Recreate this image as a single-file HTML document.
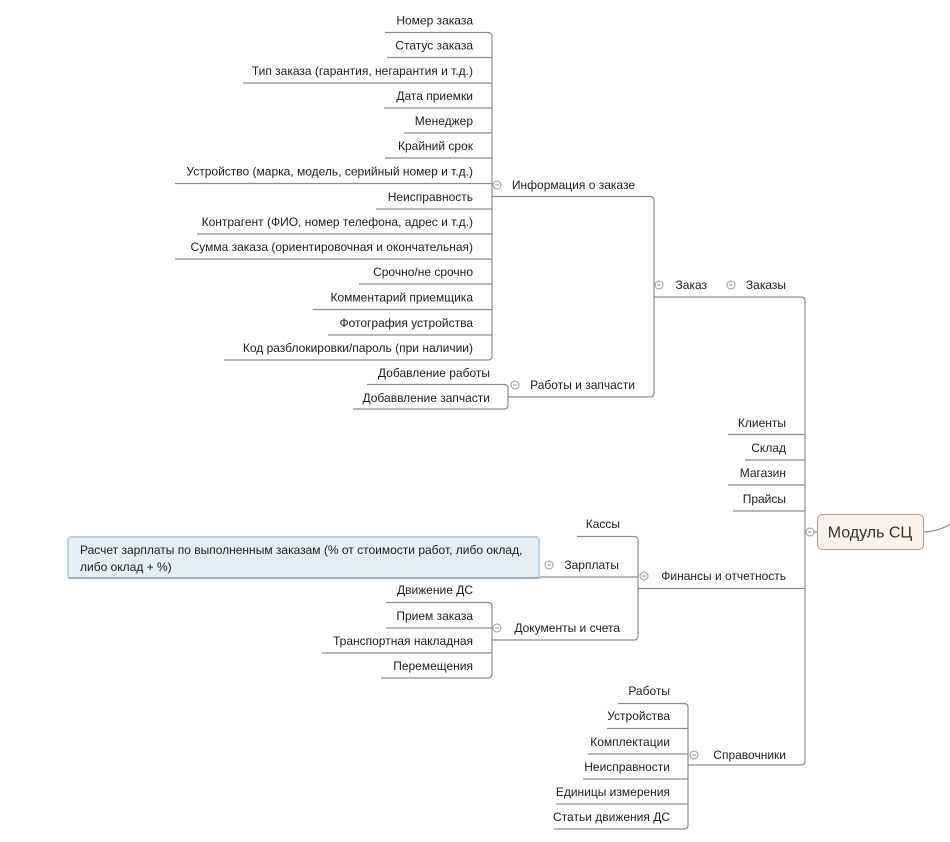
<!DOCTYPE html>
<html><head><meta charset="utf-8"><style>
html,body{margin:0;padding:0;background:#fff;width:950px;height:842px;overflow:hidden}
svg{display:block}
text{font-family:"Liberation Sans","DejaVu Sans",sans-serif;font-size:12px;fill:#1e1e1e}
</style></head><body>
<svg width="950" height="842" viewBox="0 0 950 842" xmlns="http://www.w3.org/2000/svg">
<g fill="none" stroke="#8e8e8e" stroke-width="1.2">
<path d="M385 32.5H488q4 0 4 4V356q0 4-4 4"/>
<path d="M387 57.5H492M243 83H492M384 108H492M404 133H492M385 158H492M175 183.5H492M376 209H492M197 234H492M175 259H492M359 284H492M313 309.5H492M328 335H492M224 360H488"/>
<path d="M492 196.5H650q4 0 4 4V393q0 4-4 4H508"/>
<path d="M367 384.5H504q4 0 4 4V405q0 4-4 4H353"/>
<path d="M654 297H801q4 0 4 4V761q0 4-4 4H688"/>
<path d="M728 434.5H805M745 460H805M728 485H805M733 511H805M638 588.5H805"/>
<path d="M577 536.5H634q4 0 4 4V636q0 4-4 4H492"/>
<path d="M540 577H638"/>
<path d="M386 602.5H488q4 0 4 4V674q0 4-4 4H381"/>
<path d="M386 628H492M322 653H492"/>
<path d="M618 703.5H684q4 0 4 4V825q0 4-4 4H554"/>
<path d="M607 728.5H688M588 754H688M583 779H688M556 804H688"/>
<path d="M805 532H817"/>
<path d="M924 532Q940 531 950 524"/>
</g>
<g fill="#fff" stroke="#9a9a9a" stroke-width="1">
<circle cx="497" cy="185" r="4"/><circle cx="515" cy="385" r="4"/>
<circle cx="659" cy="285" r="4"/><circle cx="731" cy="285" r="4"/>
<circle cx="810" cy="532" r="4"/><circle cx="644" cy="576" r="4"/>
<circle cx="549" cy="565" r="4"/><circle cx="497" cy="628" r="4"/>
<circle cx="694" cy="755" r="4"/>
</g>
<g stroke="#9a9a9a" stroke-width="1">
<path d="M495 185h4M513 385h4M657 285h4M729 285h4M808 532h4M642 576h4M547 565h4M495 628h4M692 755h4"/>
</g>
<rect x="817.5" y="514.5" width="106" height="35" rx="5" fill="#fdf2ea" stroke="#a89f97"/>
<text x="870" y="537.5" text-anchor="middle" style="font-size:16px;fill:#333">Модуль СЦ</text>
<rect x="68" y="537" width="471" height="41" rx="3" fill="#e3eff5" stroke="#bdd3e3" stroke-width="2"/>
<path d="M68 578H540" stroke="#8e9aa2" stroke-width="1.2"/>
<text x="80" y="554">Расчет зарплаты по выполненным заказам (% от стоимости работ, либо оклад,</text>
<text x="80" y="571">либо оклад + %)</text>
<g text-anchor="end">
<text x="473" y="24.5">Номер заказа</text>
<text x="473" y="49.5">Статус заказа</text>
<text x="473" y="75">Тип заказа (гарантия, негарантия и т.д.)</text>
<text x="473" y="100">Дата приемки</text>
<text x="473" y="125">Менеджер</text>
<text x="473" y="150">Крайний срок</text>
<text x="473" y="175.5">Устройство (марка, модель, серийный номер и т.д.)</text>
<text x="473" y="201">Неисправность</text>
<text x="473" y="226">Контрагент (ФИО, номер телефона, адрес и т.д.)</text>
<text x="473" y="251">Сумма заказа (ориентировочная и окончательная)</text>
<text x="473" y="276">Срочно/не срочно</text>
<text x="473" y="301.5">Комментарий приемщика</text>
<text x="473" y="327">Фотография устройства</text>
<text x="473" y="352">Код разблокировки/пароль (при наличии)</text>
<text x="635" y="189">Информация о заказе</text>
<text x="490" y="377">Добавление работы</text>
<text x="490" y="402">Добаввление запчасти</text>
<text x="635" y="389">Работы и запчасти</text>
<text x="707" y="289">Заказ</text>
<text x="786" y="289">Заказы</text>
<text x="786" y="427">Клиенты</text>
<text x="786" y="452">Склад</text>
<text x="786" y="477">Магазин</text>
<text x="786" y="503">Прайсы</text>
<text x="786" y="580">Финансы и отчетность</text>
<text x="620" y="528">Кассы</text>
<text x="619" y="569">Зарплаты</text>
<text x="620" y="632">Документы и счета</text>
<text x="473" y="594">Движение ДС</text>
<text x="473" y="620">Прием заказа</text>
<text x="473" y="645">Транспортная накладная</text>
<text x="473" y="670">Перемещения</text>
<text x="786" y="759">Справочники</text>
<text x="670" y="695">Работы</text>
<text x="670" y="720">Устройства</text>
<text x="670" y="746">Комплектации</text>
<text x="670" y="771">Неисправности</text>
<text x="670" y="796">Единицы измерения</text>
<text x="670" y="821">Статьи движения ДС</text>
</g>
</svg>
</body></html>
